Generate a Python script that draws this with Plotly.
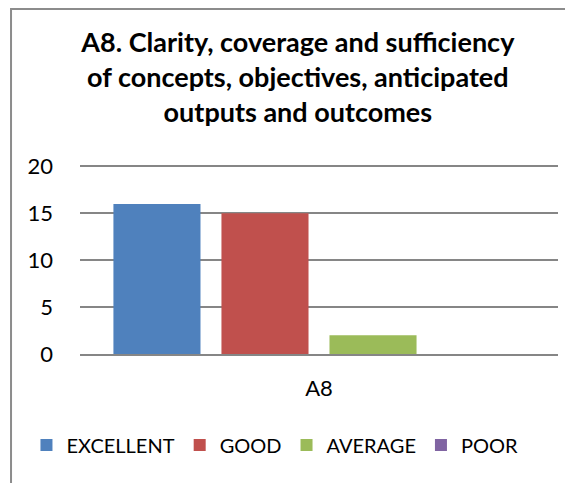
import plotly.graph_objects as go

categories = ["A8"]
series_names = ["EXCELLENT", "GOOD", "AVERAGE", "POOR"]
series_values = [[16], [15], [2], [0]]
colors = ["#4F81BD", "#C0504D", "#9BBB59", "#8064A2"]

FONT = "Lato, Calibri, sans-serif"

fig = go.Figure()
for name, vals, color in zip(series_names, series_values, colors):
    fig.add_trace(go.Bar(x=categories, y=vals, name=name, marker_color=color,
                         marker_line_width=0))

# the page body adds an 8px margin, so the figure is sized to fit inside it
fig.update_layout(
    width=565,
    height=475,
    barmode="group",
    bargap=0.096,
    bargroupgap=0.194,
    paper_bgcolor="white",
    plot_bgcolor="white",
    margin=dict(l=72, r=15, t=156, b=129, autoexpand=False),
    font=dict(family=FONT, size=22, color="black"),
    title=dict(
        text="A8. Clarity, coverage and sufficiency<br>of concepts, objectives, anticipated<br>outputs and outcomes",
        x=0.513, xanchor="center", xref="container",
        y=0.907, yanchor="middle", yref="container",
        font=dict(family=FONT, size=27, color="black", weight="bold"),
    ),
    legend=dict(
        orientation="h",
        x=-0.112, xanchor="left",
        y=-0.479, yanchor="middle",
        font=dict(family=FONT, size=20, color="black"),
        itemwidth=30,
        itemclick=False,
    ),
    showlegend=True,
)

fig.update_yaxes(
    range=[0, 20.25],
    tickvals=[0, 5, 10, 15, 20],
    showgrid=True,
    gridcolor="#868686",
    gridwidth=2,
    zeroline=False,
    showline=False,
    ticklabelstandoff=26,
)
fig.update_xaxes(
    showline=True,
    linecolor="#868686",
    linewidth=2,
    showgrid=False,
    ticklabelstandoff=14,
)

# chart frame, spilling past the right and bottom edges like the reference
fig.add_shape(type="rect", xref="paper", yref="paper",
              x0=-0.1443, x1=1.2, y0=-1.0, y1=1.816,
              line=dict(color="#8C8C8C", width=2), fillcolor="rgba(0,0,0,0)",
              layer="below")

fig.write_html("out.html")
